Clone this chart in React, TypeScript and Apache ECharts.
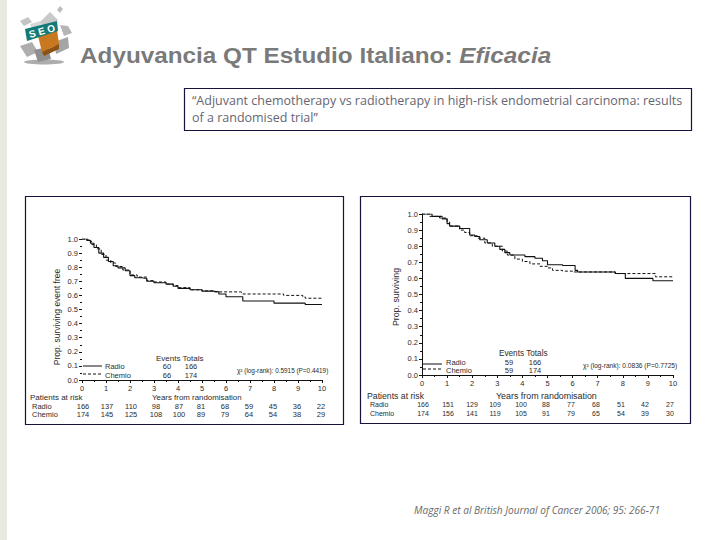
import React, { useEffect, useRef } from "react";
import * as echarts from "echarts";

const titleMain = "Adyuvancia QT Estudio Italiano: ";
const titleItalic = "Eficacia";
const quoteLines = [
  "“Adjuvant chemotherapy vs radiotherapy in high-risk endometrial carcinoma: results",
  "of a randomised trial”",
];
const citation = "Maggi R et al British Journal of Cancer 2006; 95: 266-71";

const leftRadio = [[0,1],[0.2,0.99],[0.35,0.97],[0.5,0.94],[0.7,0.9],[0.9,0.87],[1.1,0.84],[1.3,0.81],[1.5,0.795],[1.8,0.775],[2,0.74],[2.2,0.725],[2.5,0.72],[2.7,0.7],[3,0.69],[3.5,0.68],[3.8,0.665],[4,0.65],[4.5,0.64],[5,0.63],[5.5,0.625],[5.7,0.61],[6,0.59],[6.7,0.56],[8,0.545],[9.3,0.535],[10,0.535]];
const leftChemio = [[0,1],[0.25,0.985],[0.4,0.96],[0.6,0.93],[0.8,0.89],[1,0.85],[1.2,0.83],[1.4,0.805],[1.7,0.78],[2,0.745],[2.3,0.73],[2.7,0.705],[3,0.695],[3.5,0.68],[3.8,0.67],[4,0.655],[4.5,0.64],[5,0.632],[5.5,0.625],[6.6,0.62],[6.7,0.61],[8.4,0.6],[9.2,0.59],[9.3,0.58],[10,0.58]];
const rightRadio = [[0,1],[0.4,0.985],[0.8,0.97],[1,0.94],[1.1,0.925],[1.5,0.91],[1.9,0.87],[2.1,0.86],[2.3,0.84],[2.6,0.82],[2.9,0.8],[3.1,0.78],[3.3,0.76],[3.5,0.745],[4.1,0.735],[4.5,0.725],[4.8,0.71],[5,0.685],[5.6,0.68],[6.1,0.65],[6.2,0.64],[7.7,0.63],[8.1,0.6],[9.2,0.585],[10,0.585]];
const rightChemio = [[0,1],[0.3,0.985],[0.7,0.975],[1,0.95],[1.1,0.925],[1.5,0.9],[1.7,0.885],[1.9,0.865],[2.2,0.85],[2.5,0.82],[2.8,0.8],[3.2,0.77],[3.4,0.745],[3.7,0.72],[4,0.705],[4.3,0.69],[4.7,0.675],[5,0.665],[5.2,0.65],[5.6,0.645],[6,0.64],[7.7,0.63],[9.3,0.61],[10,0.61]];

const leftRiskRadio = [166,137,110,98,87,81,68,59,45,36,22];
const leftRiskChemio = [174,145,125,108,100,89,79,64,54,38,29];
const rightRiskRadio = [166,151,129,109,100,88,77,68,51,42,27];
const rightRiskChemio = [174,156,141,119,105,91,79,65,54,39,30];

const leftYName = "Prop. surviving event free";
const rightYName = "Prop. surviving";
const xName = "Years from randomisation";
const riskTitle = "Patients at risk";
const eventsHeader = "Events Totals";
const armNames = ["Radio", "Chemio"];
const leftEvents = [["60", "166"], ["66", "174"]];
const rightEvents = [["59", "166"], ["59", "174"]];
const leftChi = "χ² (log-rank): 0.5915 (P=0.4419)";
const rightChi = "χ² (log-rank): 0.0836 (P=0.7725)";

const INK = "#2b2b2b";
const FONT = "'Liberation Sans', Arial, sans-serif";

function t(text: string, x: number, y: number, size: number, extra: any = {}) {
  return {
    type: "text",
    x,
    y,
    silent: true,
    style: {
      text,
      fontSize: size,
      fontFamily: FONT,
      fill: INK,
      textVerticalAlign: "middle",
      textAlign: "left",
      ...extra,
    },
  };
}

function line(x1: number, y1: number, x2: number, y2: number, dash?: number[]) {
  return {
    type: "line",
    silent: true,
    shape: { x1, y1, x2, y2 },
    style: { stroke: "#111", lineWidth: 1, lineDash: dash },
  };
}

function box(x: number, y: number, w: number, h: number, stroke: string, z = 0) {
  return {
    type: "rect",
    silent: true,
    z,
    shape: { x: x + 0.5, y: y + 0.5, width: w, height: h },
    style: { fill: "#fff", stroke, lineWidth: 1.2 },
  };
}

function axes(gridIndex: number, showYLine: boolean, size: number) {
  const xAxis = {
    type: "value",
    gridIndex,
    min: 0,
    max: 10,
    interval: 1,
    splitLine: { show: false },
    axisLine: { onZero: false, lineStyle: { color: "#111", width: 1 } },
    axisTick: { length: 3, lineStyle: { color: "#111" } },
    minorTick: { show: true, splitNumber: 2, length: 2, lineStyle: { color: "#111" } },
    axisLabel: { color: INK, fontSize: size, fontFamily: FONT, margin: 4 },
  };
  const yAxis = {
    type: "value",
    gridIndex,
    min: 0,
    max: 1,
    interval: 0.1,
    splitLine: { show: false },
    axisLine: { show: showYLine, onZero: false, lineStyle: { color: "#111", width: 1 } },
    axisTick: { show: true, length: 3, lineStyle: { color: "#111" } },
    minorTick: { show: true, splitNumber: 2, length: 2, lineStyle: { color: "#111" } },
    axisLabel: {
      color: INK,
      fontSize: size,
      fontFamily: FONT,
      margin: 4,
      formatter: (v: number) => v.toFixed(1),
    },
  };
  return { xAxis, yAxis };
}

function curve(data: number[][], idx: number, dashed: boolean) {
  return {
    type: "line",
    xAxisIndex: idx,
    yAxisIndex: idx,
    data,
    step: "end",
    showSymbol: false,
    silent: true,
    lineStyle: { color: "#111", width: dashed ? 1 : 1.1, type: dashed ? [3, 2] : "solid" },
  };
}

function logo() {
  const stone = [
    [[30,24],[44,20],[50,30],[34,34]],
    [[40,22],[50,12],[58,20],[50,30]],
    [[57,10],[60,6],[63,9],[60,13]],
    [[20,21],[28,17],[32,22],[24,26]],
    [[60,25],[68,26],[72,33],[64,36]],
    [[20,46],[32,42],[38,52],[27,57]],
    [[34,50],[48,47],[51,59],[38,62]],
    [[54,42],[68,37],[69,48],[56,54]],
  ];
  const shade = ["#d8d8d8", "#c9c9c9", "#bdbdbd", "#c4c4c4", "#b5b5b5", "#aeaeae", "#8f8f8f", "#a5a5a5"];
  return [
    { type: "ellipse", silent: true, shape: { cx: 44, cy: 62, rx: 20, ry: 2.5 }, style: { fill: "#777", opacity: 0.6 } },
    ...stone.map((p, i) => ({ type: "polygon", silent: true, shape: { points: p }, style: { fill: shade[i] } })),
    { type: "polygon", silent: true, shape: { points: [[38,36],[57,30],[59,44],[42,52]] }, style: { fill: "#c9781f" } },
    { type: "polygon", silent: true, shape: { points: [[42,52],[59,44],[59,49],[44,56]] }, style: { fill: "#8e5314" } },
    { type: "polygon", silent: true, shape: { points: [[25,29],[57,21],[58,31],[27,41]] }, style: { fill: "#137a76" } },
    {
      type: "text",
      silent: true,
      x: 42,
      y: 31,
      rotation: 0.27,
      style: { text: "S E O", fontSize: 10, fontFamily: FONT, fontWeight: "bold", fill: "#fff", textAlign: "center", textVerticalAlign: "middle" },
    },
  ];
}

function panelText(p: any) {
  const out: any[] = [];
  out.push(t(p.yName, p.yNameX, p.yNameY, p.nameSize, { textAlign: "center" }));
  out[out.length - 1].rotation = Math.PI / 2;
  out.push(t(riskTitle, p.riskX, p.titleY, p.riskTitleSize));
  out.push(t(xName, p.xNameX, p.titleY, p.xNameSize));
  armNames.forEach((name, a) => {
    out.push(t(name, p.rowX, p.rowY[a], p.rowSize));
    p.risk[a].forEach((v: number, i: number) => {
      out.push(t(String(v), p.riskXs[i], p.rowY[a], p.rowSize, { textAlign: "center" }));
    });
    out.push(t(name, p.legendTextX, p.legendY[a], p.legendSize));
    out.push(line(p.legendLine[0], p.legendLineY[a], p.legendLine[1], p.legendLineY[a], a === 1 ? [3, 2] : undefined));
    out.push(t(p.events[a][0], p.eventX[0], p.legendY[a], p.legendSize, { textAlign: "center" }));
    out.push(t(p.events[a][1], p.eventX[1], p.legendY[a], p.legendSize, { textAlign: "center" }));
  });
  out.push(t(eventsHeader, p.headerX, p.headerY, p.headerSize));
  out.push(t(p.chi, p.chiX, p.chiY, p.chiSize));
  return out;
}

export default function App() {
  const ref = useRef<HTMLDivElement>(null);

  useEffect(() => {
    const chart = echarts.init(ref.current!, undefined, { renderer: "svg" });
    const a0 = axes(0, false, 7.5);
    const a1 = axes(1, true, 7.5);

    const leftPanel = {
      yName: leftYName, yNameX: 57, yNameY: 317, nameSize: 8.5,
      riskX: 30, riskTitleSize: 8, xNameX: 152, xNameSize: 7.9, titleY: 397,
      rowX: 32, rowY: [406, 414.5], rowSize: 7.5,
      risk: [leftRiskRadio, leftRiskChemio],
      riskXs: [83, 107, 131, 156, 179, 201, 225, 249, 273, 297, 321],
      legendTextX: 105, legendY: [366, 375], legendSize: 7.5,
      legendLine: [83, 102], legendLineY: [366, 374],
      events: leftEvents, eventX: [167, 191],
      headerX: 156, headerY: 358, headerSize: 8,
      chi: leftChi, chiX: 237, chiY: 370, chiSize: 6.4,
    };
    const rightPanel = {
      yName: rightYName, yNameX: 396, yNameY: 297, nameSize: 8.8,
      riskX: 367, riskTitleSize: 8.7, xNameX: 496, xNameSize: 8.9, titleY: 396,
      rowX: 370, rowY: [404.5, 413], rowSize: 7,
      risk: [rightRiskRadio, rightRiskChemio],
      riskXs: [423, 448, 472, 495, 521, 546, 571, 596, 621, 645, 670],
      legendTextX: 446, legendY: [362, 370], legendSize: 7.5,
      legendLine: [423, 442], legendLineY: [364, 369],
      events: rightEvents, eventX: [509, 535],
      headerX: 499, headerY: 353, headerSize: 8.2,
      chi: rightChi, chiX: 583, chiY: 365, chiSize: 6.6,
    };

    chart.setOption({
      animation: false,
      backgroundColor: "#ffffff",
      grid: [
        { left: 82, top: 239, width: 240, height: 141 },
        { left: 422, top: 214, width: 251, height: 161 },
      ],
      xAxis: [a0.xAxis, a1.xAxis],
      yAxis: [a0.yAxis, a1.yAxis],
      series: [
        curve(leftRadio, 0, false),
        curve(leftChemio, 0, true),
        curve(rightRadio, 1, false),
        curve(rightChemio, 1, true),
      ],
      graphic: {
        elements: [
          { type: "group", z: -10, silent: true, children: [
            { type: "rect", shape: { x: 0, y: 0, width: 7, height: 540 }, style: { fill: "#e9e9e0" } },
            box(184, 88, 507, 42, "#14143c"),
            box(25, 196, 318, 228, "#14143c"),
            box(360, 196, 330, 227, "#14143c"),
            ...logo(),
          ] },
          {
            type: "text",
            silent: true,
            x: 80,
            y: 56,
            scaleX: 1.13,
            style: {
              text: "{a|" + titleMain + "}{b|" + titleItalic + "}",
              textVerticalAlign: "middle",
              rich: {
                a: { fontSize: 21.5, fontFamily: FONT, fill: "#7a7a7a", fontWeight: "bold" },
                b: { fontSize: 21.5, fontFamily: FONT, fill: "#7a7a7a", fontStyle: "italic", fontWeight: "bold" },
              },
            },
          },
          ...quoteLines.map((q, i) => ({
            type: "text",
            silent: true,
            x: 192,
            y: 100 + i * 17,
            style: { text: q, fontSize: 12.5, fontFamily: "'Open Sans', sans-serif", fill: "#666672", textVerticalAlign: "middle" },
          })),
          {
            type: "text",
            silent: true,
            x: 414,
            y: 510,
            style: { text: citation, fontSize: 10.1, fontStyle: "italic", fontFamily: "'Open Sans', sans-serif", fill: "#6a6a6a", textVerticalAlign: "middle" },
          },
          ...panelText(leftPanel),
          ...panelText(rightPanel),
        ],
      },
    });
    return () => chart.dispose();
  }, []);

  return <div ref={ref} style={{ position: "absolute", left: 0, top: 0, width: 720, height: 540 }} />;
}
